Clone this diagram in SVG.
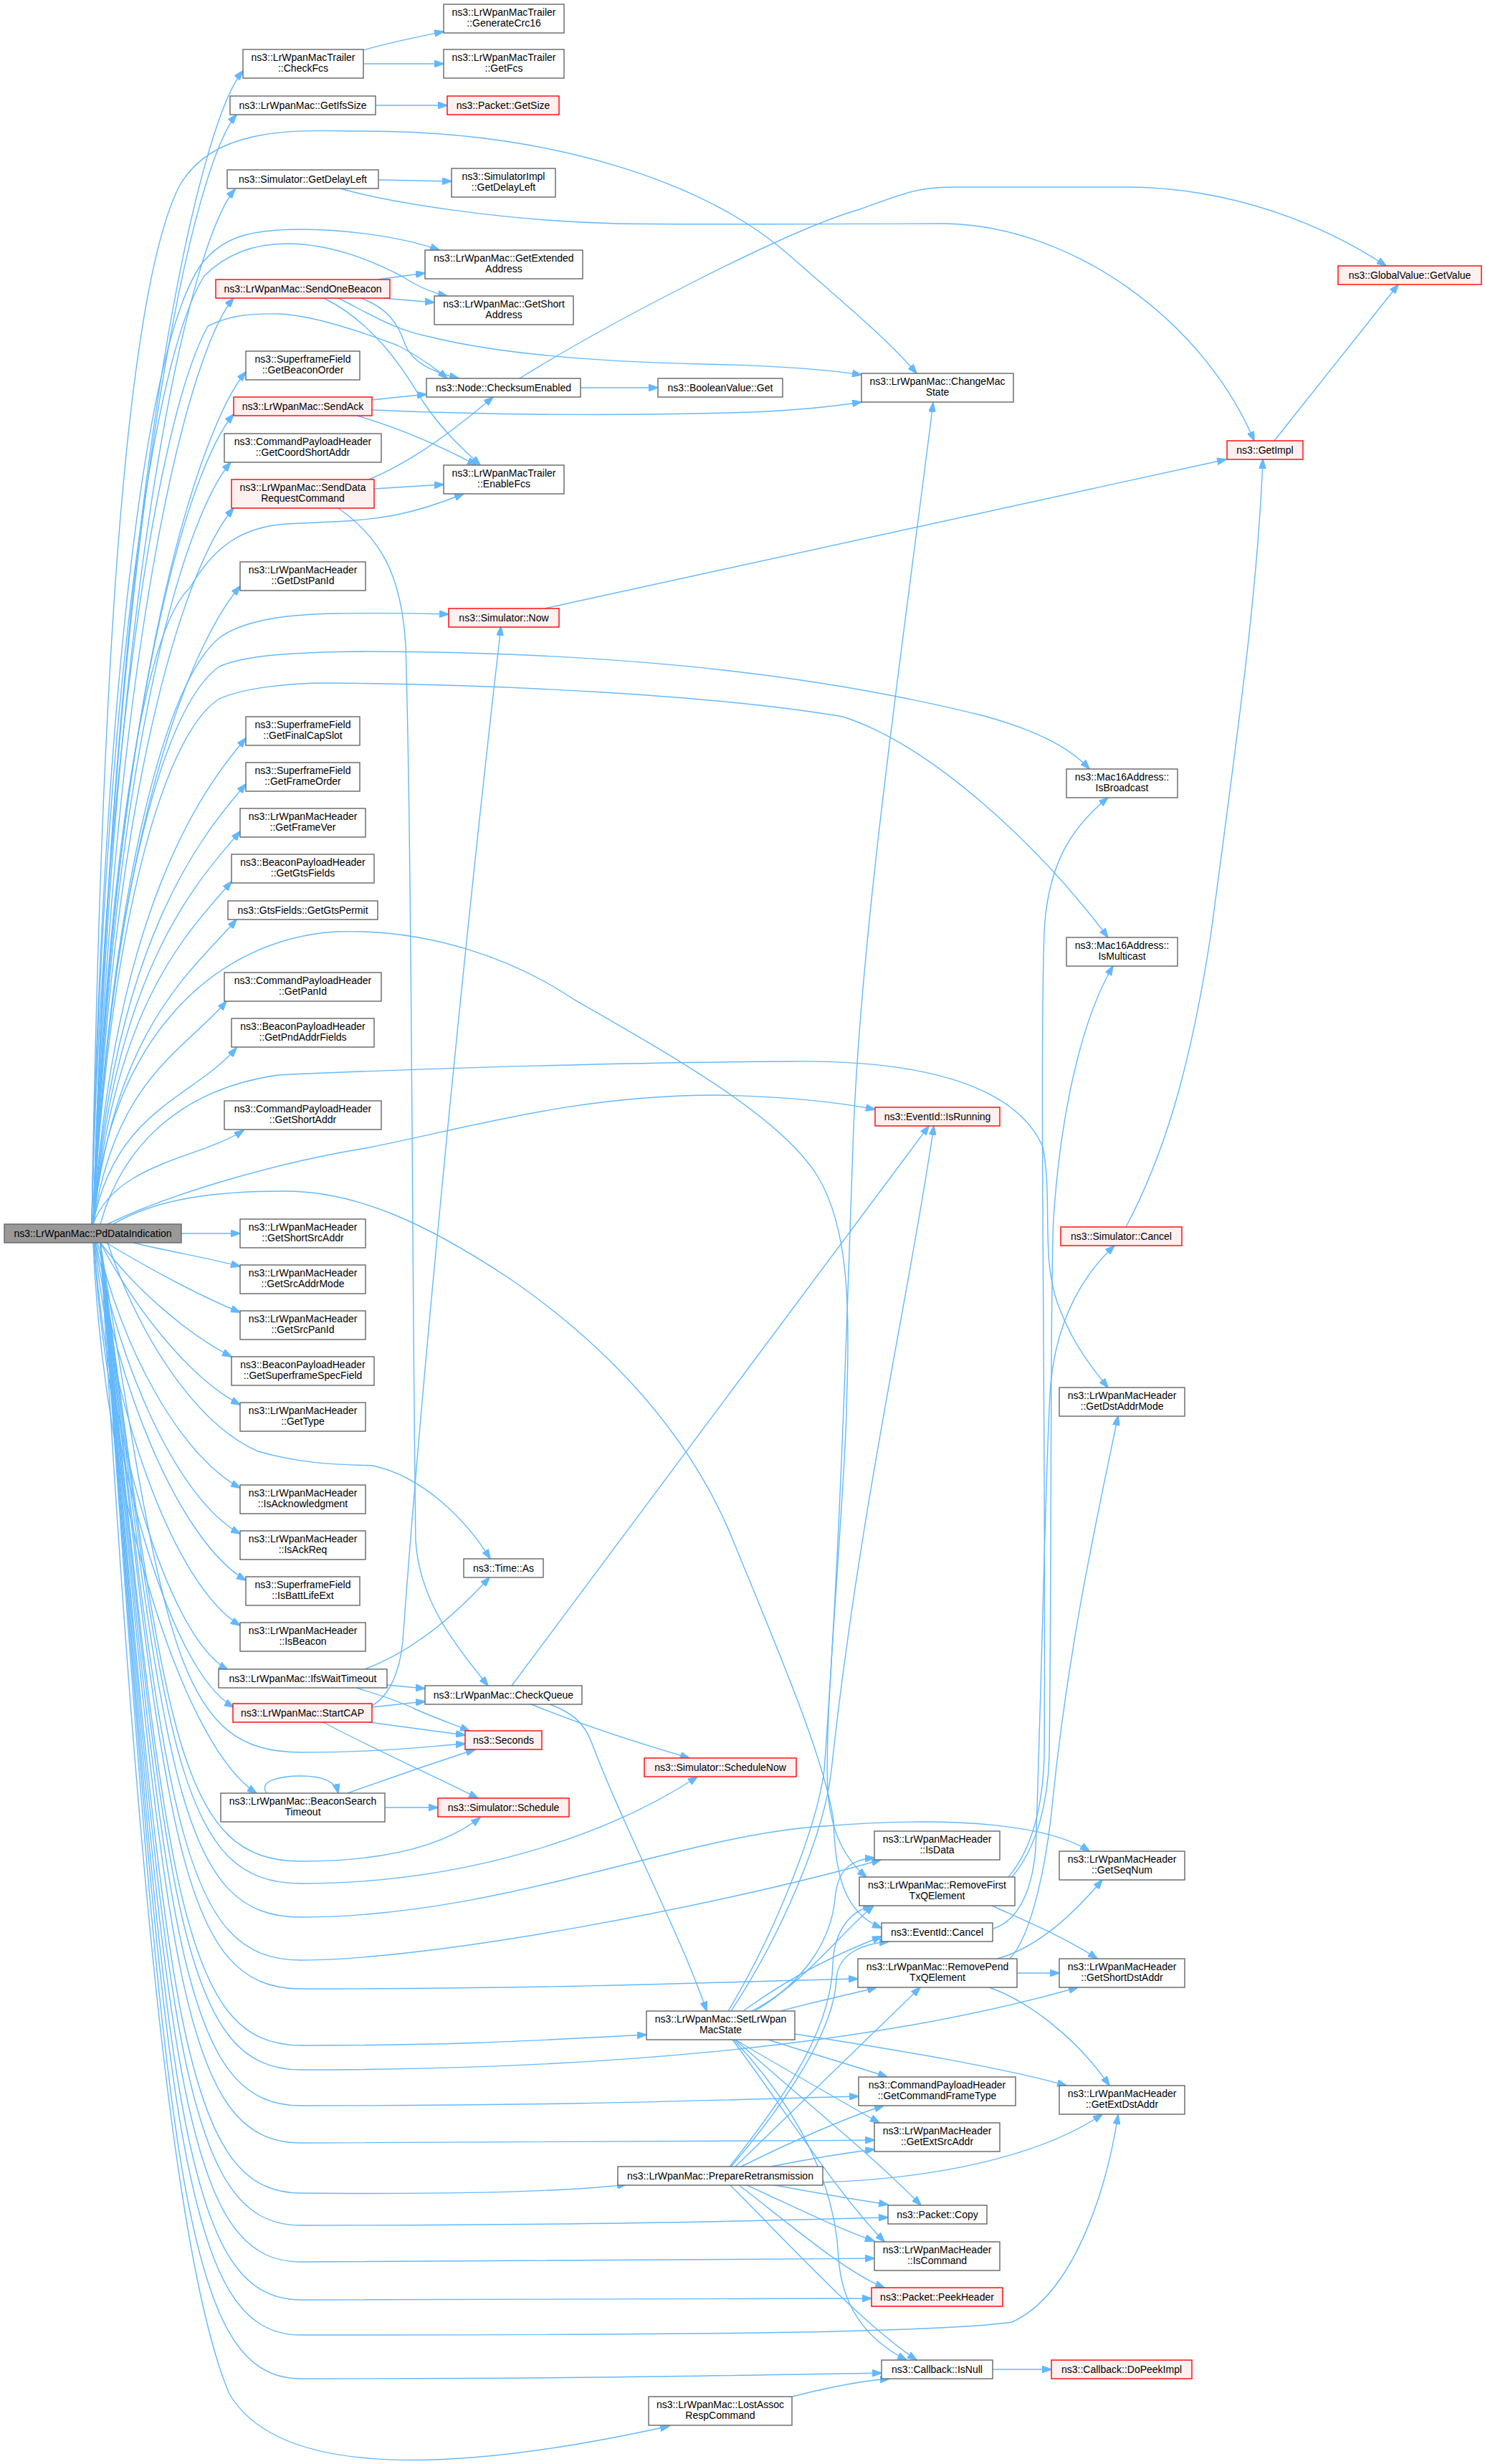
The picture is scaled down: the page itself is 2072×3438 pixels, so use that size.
<svg xmlns="http://www.w3.org/2000/svg" width="2072" height="3438" viewBox="0 0 2072 3438">
<style>
.n rect{fill:#ffffff;stroke:#666666;stroke-width:1.4}
.r rect{fill:#fff0f0;stroke:#ff0000;stroke-width:1.4}
.m rect{fill:#999999;stroke:#666666;stroke-width:1.4}
text{font-family:"Liberation Sans",Arial,sans-serif;font-size:14px;fill:#000000;text-anchor:middle}
.e path{fill:none;stroke:#63b8ff;stroke-width:1.4;marker-end:url(#a)}
</style>
<defs>
<marker id="a" markerUnits="userSpaceOnUse" markerWidth="14" markerHeight="10" viewBox="0 0 14 10" refX="13" refY="5" orient="auto"><path d="M0,0 L14,5 L0,10 z" fill="#63b8ff" stroke="#63b8ff"/></marker>
</defs>
<rect width="2072" height="3438" fill="#ffffff"/>
<g id="edges" class="e">
<path d="M130,1708 C160,662 279,169 339,99"/>
<path d="M130,1708 C160,702 270,230 330,160"/>
<path d="M130,1708 C160,769 268,334 328,264"/>
<path d="M130,1708 C160,868 266,486 326,416"/>
<path d="M130,1708 C160,935 283,589 343,519"/>
<path d="M130,1708 C160,974 266,648 326,578"/>
<path d="M130,1708 C160,1017 262,715 322,645"/>
<path d="M130,1708 C160,1059 266,779 326,709"/>
<path d="M130,1708 C160,1130 275,888 335,818"/>
<path d="M130,1708 C160,1267 283,1100 343,1030"/>
<path d="M130,1708 C160,1309 283,1164 343,1094"/>
<path d="M130,1708 C160,1352 275,1230 335,1160"/>
<path d="M130,1708 C160,1397 263,1300 323,1230"/>
<path d="M130,1708 C160,1432 270,1353 330,1283"/>
<path d="M130,1708 C160,1506 256,1467 316,1397"/>
<path d="M130,1708 C160,1548 270,1532 330,1462"/>
<path d="M130,1708 C160,1623 280,1616 340,1577"/>
<path d="M253,1721 L335,1721"/>
<path d="M186,1734 C230,1745 290,1755 335,1767"/>
<path d="M148,1734 C200,1765 270,1805 335,1831"/>
<path d="M140,1734 C190,1800 260,1860 323,1893"/>
<path d="M140,1734 C185,1820 260,1920 335,1960"/>
<path d="M136,1734 C170,1880 250,2030 335,2076"/>
<path d="M134,1734 C165,1900 245,2090 335,2140"/>
<path d="M133,1734 C160,1930 250,2150 343,2205"/>
<path d="M132,1734 C155,1960 240,2210 335,2268"/>
<path d="M131,1734 C150,1990 230,2280 318,2330"/>
<path d="M131,1734 C148,2020 235,2330 326,2382"/>
<path d="M130,1734 C145,2100 260,2440 358,2502"/>
<path d="M150,1734 C200,1880 280,1990 360,2025 C430,2045 480,2043 520,2045 C590,2060 650,2120 684,2175"/>
<path d="M140,1734 C230,2303 250,2445 420,2445 C535,2445 592,2437 649,2433"/>
<path d="M140,1734 C230,2424 250,2597 420,2597 C540,2597 620,2575 670,2536"/>
<path d="M140,1734 C230,2449 250,2628 420,2628 C650,2628 850,2560 973,2479"/>
<path d="M140,1734 C230,2487 250,2675 420,2675 C700,2675 950,2560 1150,2548 C1350,2532 1470,2550 1520,2583"/>
<path d="M140,1734 C230,2535 250,2735 420,2735 C600,2735 1000,2660 1229,2595"/>
<path d="M140,1734 C230,2567 250,2775 420,2775 C800,2775 1000,2765 1197,2761"/>
<path d="M140,1734 C230,2630 250,2854 420,2854 C660,2854 780,2845 902,2839"/>
<path d="M140,1734 C230,2657 250,2888 420,2888 C800,2888 1200,2860 1504,2773"/>
<path d="M140,1734 C230,2697 250,2938 420,2938 C800,2938 1000,2930 1198,2925"/>
<path d="M140,1734 C230,2739 250,2990 420,2990 C800,2990 1000,2988 1220,2986"/>
<path d="M140,1734 C230,2795 250,3060 420,3060 C650,3062 790,3058 874,3048"/>
<path d="M140,1734 C230,2831 250,3105 420,3105 C800,3105 1000,3100 1239,3094"/>
<path d="M140,1734 C230,2872 250,3156 420,3156 C800,3156 1000,3153 1220,3151"/>
<path d="M140,1734 C230,2914 250,3209 420,3209 C800,3209 1000,3207 1216,3207"/>
<path d="M140,1734 C230,2953 250,3258 420,3258 C900,3258 1300,3256 1412,3240 C1500,3200 1545,3050 1560,2951"/>
<path d="M140,1734 C230,3002 250,3319 420,3319 C800,3319 1000,3315 1230,3311"/>
<path d="M140,1734 C200,2800 260,3200 320,3340 C390,3460 640,3450 934,3385"/>
<path d="M128,1708 C140,1000 170,420 250,260 C300,170 430,183 510,183 C760,183 980,250 1100,355 C1180,425 1240,475 1279,521"/>
<path d="M128,1708 C140,1100 190,500 280,370 C310,330 350,320 420,320 C480,320 560,330 613,349"/>
<path d="M128,1708 C140,1100 200,520 285,385 C320,350 360,340 400,340 C470,340 530,370 560,385 C580,398 600,408 624,413"/>
<path d="M128,1708 C140,1150 210,600 290,455 C320,440 350,437 390,438 C440,440 510,465 555,482 C580,495 605,512 624,528"/>
<path d="M130,1708 C150,1200 200,880 265,820 C300,760 340,735 400,731 C460,728 500,728 550,719 C590,711 620,700 647,689"/>
<path d="M130,1708 C150,1300 220,960 306,890 C340,865 400,857 470,856 C540,855 590,856 626,857"/>
<path d="M130,1708 C150,1300 220,990 306,930 C340,915 400,910 510,909 C800,910 1100,930 1377,1000 C1440,1018 1490,1040 1520,1073"/>
<path d="M130,1708 C150,1330 220,1030 306,975 C340,960 400,953 460,953 C700,955 1000,970 1176,1000 C1300,1040 1450,1180 1546,1308"/>
<path d="M140,1708 C170,1600 250,1520 388,1500 C600,1490 900,1482 1100,1481 C1300,1478 1420,1520 1455,1600 C1470,1680 1450,1760 1480,1830 C1500,1880 1525,1910 1546,1936"/>
<path d="M150,1708 C250,1660 400,1620 510,1602 C650,1575 800,1528 1000,1528 C1100,1530 1170,1538 1221,1548"/>
<path d="M130,1708 C150,1450 300,1310 469,1300 C600,1295 720,1340 800,1394 C950,1480 1090,1560 1140,1640 C1190,1720 1185,1850 1180,2000 C1170,2200 1150,2400 1155,2500 C1160,2560 1180,2595 1209,2619"/>
<path d="M158,1708 C220,1672 300,1662 398,1662 C500,1662 600,1710 714,1786 C850,1880 960,2000 1019,2140 C1080,2290 1150,2450 1163,2540 C1165,2620 1180,2670 1230,2690"/>
<path d="M507,70 C540,60 580,52 619,44"/>
<path d="M507,89 L619,89"/>
<path d="M524,147 L624,147"/>
<path d="M528,251 L630,253"/>
<path d="M475,263 C540,282 700,308 860,312 C1000,314 1200,312 1320,312 C1500,316 1680,450 1750,615"/>
<path d="M527,390 L593,381"/>
<path d="M535,416 L606,422"/>
<path d="M504,416 C540,430 555,450 565,480 C575,505 600,518 640,528"/>
<path d="M452,416 C520,450 560,510 590,560 C620,605 650,630 670,649"/>
<path d="M472,416 C520,440 550,460 600,470 C700,495 850,505 980,508 C1080,510 1150,515 1202,523"/>
<path d="M519,558 L595,550"/>
<path d="M519,572 C700,580 900,580 1050,575 C1120,572 1170,566 1202,561"/>
<path d="M498,580 C550,595 610,620 665,649"/>
<path d="M515,669 C560,650 610,620 688,554"/>
<path d="M522,682 L619,676"/>
<path d="M472,709 C530,750 560,800 566,900 C575,1200 575,1800 580,2150 C585,2230 630,2290 681,2352"/>
<path d="M810,541 L918,541"/>
<path d="M725,528 C850,450 1100,320 1200,292 C1260,270 1280,261 1330,261 L1570,261 C1720,261 1850,315 1934,371"/>
<path d="M760,849 L1711,641"/>
<path d="M1778,615 L1951,397"/>
<path d="M1571,1712 C1620,1620 1660,1500 1690,1300 C1730,1000 1755,820 1762,641"/>
<path d="M540,2351 L593,2356"/>
<path d="M497,2355 C530,2365 560,2375 580,2385 C610,2398 630,2405 655,2415"/>
<path d="M509,2329 C560,2310 620,2270 683,2201"/>
<path d="M519,2382 L593,2374"/>
<path d="M515,2403 L649,2421"/>
<path d="M451,2403 C520,2440 600,2475 667,2509"/>
<path d="M519,2380 C545,2365 558,2330 562,2290 C590,1900 650,1300 699,874"/>
<path d="M485,2502 C560,2475 620,2455 663,2441"/>
<path d="M537,2522 L611,2522"/>
<path d="M372,2502 C360,2485 390,2478 420,2478 C450,2478 468,2485 472,2502"/>
<path d="M714,2352 L1296,1571"/>
<path d="M741,2378 C820,2410 900,2435 962,2453"/>
<path d="M767,2378 C800,2390 815,2405 825,2430 C870,2550 950,2700 986,2806"/>
<path d="M1016,2806 C1080,2700 1140,2550 1150,2470 C1170,2200 1180,1900 1190,1600 C1200,1300 1260,900 1302,562"/>
<path d="M1020,2806 C1090,2700 1150,2560 1160,2470 C1200,2100 1270,1800 1303,1571"/>
<path d="M1053,2806 C1130,2760 1160,2700 1165,2650 C1168,2610 1185,2595 1220,2592"/>
<path d="M1049,2806 C1120,2770 1170,2700 1219,2659"/>
<path d="M1037,2806 C1100,2760 1170,2725 1230,2702"/>
<path d="M1089,2806 C1140,2792 1190,2782 1223,2773"/>
<path d="M1072,2846 C1130,2865 1200,2885 1238,2898"/>
<path d="M1026,2846 C1100,2890 1180,2935 1227,2962"/>
<path d="M1109,2838 C1250,2860 1400,2885 1488,2910"/>
<path d="M1026,2846 C1120,2930 1220,3010 1285,3077"/>
<path d="M1022,2846 C1100,2950 1160,3050 1234,3128"/>
<path d="M1024,2846 C1120,2950 1165,3050 1170,3150 C1175,3230 1220,3270 1265,3293"/>
<path d="M1018,3023 C1100,2920 1160,2830 1162,2740 C1164,2690 1190,2665 1217,2659"/>
<path d="M1020,3023 C1100,2930 1165,2830 1167,2760 C1170,2725 1205,2712 1240,2709"/>
<path d="M1026,3023 L1284,2773"/>
<path d="M1034,3023 C1100,2990 1180,2955 1233,2938"/>
<path d="M1076,3023 C1130,3012 1180,3004 1220,2999"/>
<path d="M1148,3045 C1300,3040 1450,3010 1538,2950"/>
<path d="M1076,3048 C1140,3060 1200,3070 1239,3076"/>
<path d="M1040,3048 C1110,3080 1170,3110 1220,3127"/>
<path d="M1030,3048 C1110,3110 1180,3170 1234,3192"/>
<path d="M1018,3048 C1100,3130 1200,3240 1279,3293"/>
<path d="M1105,3344 C1160,3330 1200,3322 1241,3319"/>
<path d="M1384,2659 C1430,2680 1490,2705 1531,2733"/>
<path d="M1407,2619 C1440,2580 1455,2520 1457,2450 C1460,2000 1450,1500 1457,1300 C1462,1200 1500,1150 1546,1113"/>
<path d="M1412,2619 C1445,2580 1462,2520 1464,2450 C1468,2100 1465,1800 1470,1700 C1480,1550 1510,1420 1553,1348"/>
<path d="M1386,2691 C1420,2680 1440,2640 1445,2580 C1455,2300 1460,2000 1466,1930 C1475,1840 1510,1780 1555,1738"/>
<path d="M1391,2733 C1440,2720 1490,2680 1538,2623"/>
<path d="M1409,2733 C1440,2700 1460,2600 1468,2520 C1490,2300 1530,2120 1560,1976"/>
<path d="M1419,2753 L1478,2753"/>
<path d="M1380,2773 C1430,2790 1500,2840 1548,2910"/>
<path d="M1385,3306 L1467,3306"/>
</g>
<g id="PdDataIndication" class="m"><rect x="6" y="1708" width="247" height="26"/><text x="129.5" y="1726">ns3::LrWpanMac::PdDataIndication</text></g>
<g id="CheckFcs" class="n"><rect x="339" y="69" width="168" height="40"/><text x="423" y="85">ns3::LrWpanMacTrailer</text><text x="423" y="100">::CheckFcs</text></g>
<g id="GetIfsSize" class="n"><rect x="321" y="134" width="203" height="26"/><text x="422.5" y="152">ns3::LrWpanMac::GetIfsSize</text></g>
<g id="GetDelayLeft" class="n"><rect x="317" y="237" width="211" height="26"/><text x="422.5" y="255">ns3::Simulator::GetDelayLeft</text></g>
<g id="SendOneBeacon" class="r"><rect x="301" y="390" width="243" height="26"/><text x="422.5" y="408">ns3::LrWpanMac::SendOneBeacon</text></g>
<g id="GetBeaconOrder" class="n"><rect x="343" y="490" width="159" height="40"/><text x="422.5" y="506">ns3::SuperframeField</text><text x="422.5" y="521">::GetBeaconOrder</text></g>
<g id="SendAck" class="r"><rect x="326" y="554" width="193" height="26"/><text x="422.5" y="572">ns3::LrWpanMac::SendAck</text></g>
<g id="GetCoordShortAddr" class="n"><rect x="313" y="605" width="219" height="40"/><text x="422.5" y="621">ns3::CommandPayloadHeader</text><text x="422.5" y="636">::GetCoordShortAddr</text></g>
<g id="SendDataRequestCommand" class="r"><rect x="323" y="669" width="199" height="40"/><text x="422.5" y="685">ns3::LrWpanMac::SendData</text><text x="422.5" y="700">RequestCommand</text></g>
<g id="GetDstPanId" class="n"><rect x="335" y="784" width="175" height="40"/><text x="422.5" y="800">ns3::LrWpanMacHeader</text><text x="422.5" y="815">::GetDstPanId</text></g>
<g id="GetFinalCapSlot" class="n"><rect x="343" y="1000" width="159" height="40"/><text x="422.5" y="1016">ns3::SuperframeField</text><text x="422.5" y="1031">::GetFinalCapSlot</text></g>
<g id="GetFrameOrder" class="n"><rect x="343" y="1064" width="159" height="40"/><text x="422.5" y="1080">ns3::SuperframeField</text><text x="422.5" y="1095">::GetFrameOrder</text></g>
<g id="GetFrameVer" class="n"><rect x="335" y="1128" width="175" height="40"/><text x="422.5" y="1144">ns3::LrWpanMacHeader</text><text x="422.5" y="1159">::GetFrameVer</text></g>
<g id="GetGtsFields" class="n"><rect x="323" y="1192" width="199" height="40"/><text x="422.5" y="1208">ns3::BeaconPayloadHeader</text><text x="422.5" y="1223">::GetGtsFields</text></g>
<g id="GetGtsPermit" class="n"><rect x="318" y="1257" width="209" height="26"/><text x="422.5" y="1275">ns3::GtsFields::GetGtsPermit</text></g>
<g id="GetPanId" class="n"><rect x="313" y="1357" width="219" height="40"/><text x="422.5" y="1373">ns3::CommandPayloadHeader</text><text x="422.5" y="1388">::GetPanId</text></g>
<g id="GetPndAddrFields" class="n"><rect x="323" y="1421" width="199" height="40"/><text x="422.5" y="1437">ns3::BeaconPayloadHeader</text><text x="422.5" y="1452">::GetPndAddrFields</text></g>
<g id="GetShortAddr" class="n"><rect x="313" y="1536" width="219" height="40"/><text x="422.5" y="1552">ns3::CommandPayloadHeader</text><text x="422.5" y="1567">::GetShortAddr</text></g>
<g id="GetShortSrcAddr" class="n"><rect x="335" y="1701" width="175" height="40"/><text x="422.5" y="1717">ns3::LrWpanMacHeader</text><text x="422.5" y="1732">::GetShortSrcAddr</text></g>
<g id="GetSrcAddrMode" class="n"><rect x="335" y="1765" width="175" height="40"/><text x="422.5" y="1781">ns3::LrWpanMacHeader</text><text x="422.5" y="1796">::GetSrcAddrMode</text></g>
<g id="GetSrcPanId" class="n"><rect x="335" y="1829" width="175" height="40"/><text x="422.5" y="1845">ns3::LrWpanMacHeader</text><text x="422.5" y="1860">::GetSrcPanId</text></g>
<g id="GetSuperframeSpecField" class="n"><rect x="323" y="1893" width="199" height="40"/><text x="422.5" y="1909">ns3::BeaconPayloadHeader</text><text x="422.5" y="1924">::GetSuperframeSpecField</text></g>
<g id="GetType" class="n"><rect x="335" y="1957" width="175" height="40"/><text x="422.5" y="1973">ns3::LrWpanMacHeader</text><text x="422.5" y="1988">::GetType</text></g>
<g id="IsAcknowledgment" class="n"><rect x="335" y="2072" width="175" height="40"/><text x="422.5" y="2088">ns3::LrWpanMacHeader</text><text x="422.5" y="2103">::IsAcknowledgment</text></g>
<g id="IsAckReq" class="n"><rect x="335" y="2136" width="175" height="40"/><text x="422.5" y="2152">ns3::LrWpanMacHeader</text><text x="422.5" y="2167">::IsAckReq</text></g>
<g id="IsBattLifeExt" class="n"><rect x="343" y="2200" width="159" height="40"/><text x="422.5" y="2216">ns3::SuperframeField</text><text x="422.5" y="2231">::IsBattLifeExt</text></g>
<g id="IsBeacon" class="n"><rect x="335" y="2264" width="175" height="40"/><text x="422.5" y="2280">ns3::LrWpanMacHeader</text><text x="422.5" y="2295">::IsBeacon</text></g>
<g id="IfsWaitTimeout" class="n"><rect x="305" y="2329" width="235" height="26"/><text x="422.5" y="2347">ns3::LrWpanMac::IfsWaitTimeout</text></g>
<g id="StartCAP" class="r"><rect x="325" y="2377" width="194" height="26"/><text x="422" y="2395">ns3::LrWpanMac::StartCAP</text></g>
<g id="BeaconSearchTimeout" class="n"><rect x="308" y="2502" width="229" height="40"/><text x="422.5" y="2518">ns3::LrWpanMac::BeaconSearch</text><text x="422.5" y="2533">Timeout</text></g>
<g id="SetLrWpanMacState" class="n"><rect x="902" y="2806" width="207" height="40"/><text x="1005.5" y="2822">ns3::LrWpanMac::SetLrWpan</text><text x="1005.5" y="2837">MacState</text></g>
<g id="PrepareRetransmission" class="n"><rect x="862" y="3023" width="286" height="26"/><text x="1005" y="3041">ns3::LrWpanMac::PrepareRetransmission</text></g>
<g id="LostAssocRespCommand" class="n"><rect x="905" y="3344" width="200" height="40"/><text x="1005" y="3360">ns3::LrWpanMac::LostAssoc</text><text x="1005" y="3375">RespCommand</text></g>
<g id="GenerateCrc16" class="n"><rect x="619" y="6" width="168" height="40"/><text x="703" y="22">ns3::LrWpanMacTrailer</text><text x="703" y="37">::GenerateCrc16</text></g>
<g id="GetFcs" class="n"><rect x="619" y="69" width="168" height="40"/><text x="703" y="85">ns3::LrWpanMacTrailer</text><text x="703" y="100">::GetFcs</text></g>
<g id="PacketGetSize" class="r"><rect x="624" y="134" width="156" height="26"/><text x="702" y="152">ns3::Packet::GetSize</text></g>
<g id="SimulatorImplGetDelayLeft" class="n"><rect x="630" y="235" width="145" height="40"/><text x="702.5" y="251">ns3::SimulatorImpl</text><text x="702.5" y="266">::GetDelayLeft</text></g>
<g id="GetExtendedAddress" class="n"><rect x="593" y="349" width="220" height="40"/><text x="703" y="365">ns3::LrWpanMac::GetExtended</text><text x="703" y="380">Address</text></g>
<g id="GetShortAddress" class="n"><rect x="606" y="413" width="194" height="40"/><text x="703" y="429">ns3::LrWpanMac::GetShort</text><text x="703" y="444">Address</text></g>
<g id="ChecksumEnabled" class="n"><rect x="595" y="528" width="215" height="26"/><text x="702.5" y="546">ns3::Node::ChecksumEnabled</text></g>
<g id="EnableFcs" class="n"><rect x="619" y="649" width="168" height="40"/><text x="703" y="665">ns3::LrWpanMacTrailer</text><text x="703" y="680">::EnableFcs</text></g>
<g id="SimulatorNow" class="r"><rect x="626" y="849" width="154" height="26"/><text x="703" y="867">ns3::Simulator::Now</text></g>
<g id="TimeAs" class="n"><rect x="647" y="2175" width="111" height="26"/><text x="702.5" y="2193">ns3::Time::As</text></g>
<g id="CheckQueue" class="n"><rect x="593" y="2352" width="219" height="26"/><text x="702.5" y="2370">ns3::LrWpanMac::CheckQueue</text></g>
<g id="Seconds" class="r"><rect x="649" y="2415" width="107" height="26"/><text x="702.5" y="2433">ns3::Seconds</text></g>
<g id="SimulatorSchedule" class="r"><rect x="611" y="2509" width="183" height="26"/><text x="702.5" y="2527">ns3::Simulator::Schedule</text></g>
<g id="SimulatorScheduleNow" class="r"><rect x="899" y="2453" width="212" height="26"/><text x="1005" y="2471">ns3::Simulator::ScheduleNow</text></g>
<g id="BooleanValueGet" class="n"><rect x="918" y="528" width="174" height="26"/><text x="1005" y="546">ns3::BooleanValue::Get</text></g>
<g id="ChangeMacState" class="n"><rect x="1202" y="521" width="212" height="40"/><text x="1308" y="537">ns3::LrWpanMac::ChangeMac</text><text x="1308" y="552">State</text></g>
<g id="EventIdIsRunning" class="r"><rect x="1221" y="1545" width="174" height="26"/><text x="1308" y="1563">ns3::EventId::IsRunning</text></g>
<g id="IsData" class="n"><rect x="1220" y="2555" width="175" height="40"/><text x="1307.5" y="2571">ns3::LrWpanMacHeader</text><text x="1307.5" y="2586">::IsData</text></g>
<g id="RemoveFirstTxQElement" class="n"><rect x="1199" y="2619" width="217" height="40"/><text x="1307.5" y="2635">ns3::LrWpanMac::RemoveFirst</text><text x="1307.5" y="2650">TxQElement</text></g>
<g id="EventIdCancel" class="n"><rect x="1230" y="2683" width="155" height="26"/><text x="1307.5" y="2701">ns3::EventId::Cancel</text></g>
<g id="RemovePendTxQElement" class="n"><rect x="1197" y="2733" width="222" height="40"/><text x="1308" y="2749">ns3::LrWpanMac::RemovePend</text><text x="1308" y="2764">TxQElement</text></g>
<g id="GetCommandFrameType" class="n"><rect x="1198" y="2898" width="219" height="40"/><text x="1307.5" y="2914">ns3::CommandPayloadHeader</text><text x="1307.5" y="2929">::GetCommandFrameType</text></g>
<g id="GetExtSrcAddr" class="n"><rect x="1220" y="2962" width="175" height="40"/><text x="1307.5" y="2978">ns3::LrWpanMacHeader</text><text x="1307.5" y="2993">::GetExtSrcAddr</text></g>
<g id="PacketCopy" class="n"><rect x="1239" y="3077" width="138" height="26"/><text x="1308" y="3095">ns3::Packet::Copy</text></g>
<g id="IsCommand" class="n"><rect x="1220" y="3128" width="175" height="40"/><text x="1307.5" y="3144">ns3::LrWpanMacHeader</text><text x="1307.5" y="3159">::IsCommand</text></g>
<g id="PacketPeekHeader" class="r"><rect x="1216" y="3192" width="183" height="26"/><text x="1307.5" y="3210">ns3::Packet::PeekHeader</text></g>
<g id="CallbackIsNull" class="n"><rect x="1230" y="3293" width="155" height="26"/><text x="1307.5" y="3311">ns3::Callback::IsNull</text></g>
<g id="IsBroadcast" class="n"><rect x="1488" y="1073" width="155" height="40"/><text x="1565.5" y="1089">ns3::Mac16Address::</text><text x="1565.5" y="1104">IsBroadcast</text></g>
<g id="IsMulticast" class="n"><rect x="1488" y="1308" width="155" height="40"/><text x="1565.5" y="1324">ns3::Mac16Address::</text><text x="1565.5" y="1339">IsMulticast</text></g>
<g id="SimulatorCancel" class="r"><rect x="1480" y="1712" width="169" height="26"/><text x="1564.5" y="1730">ns3::Simulator::Cancel</text></g>
<g id="GetDstAddrMode" class="n"><rect x="1478" y="1936" width="175" height="40"/><text x="1565.5" y="1952">ns3::LrWpanMacHeader</text><text x="1565.5" y="1967">::GetDstAddrMode</text></g>
<g id="GetSeqNum" class="n"><rect x="1478" y="2583" width="175" height="40"/><text x="1565.5" y="2599">ns3::LrWpanMacHeader</text><text x="1565.5" y="2614">::GetSeqNum</text></g>
<g id="GetShortDstAddr" class="n"><rect x="1478" y="2733" width="175" height="40"/><text x="1565.5" y="2749">ns3::LrWpanMacHeader</text><text x="1565.5" y="2764">::GetShortDstAddr</text></g>
<g id="GetExtDstAddr" class="n"><rect x="1478" y="2910" width="175" height="40"/><text x="1565.5" y="2926">ns3::LrWpanMacHeader</text><text x="1565.5" y="2941">::GetExtDstAddr</text></g>
<g id="CallbackDoPeekImpl" class="r"><rect x="1467" y="3293" width="196" height="26"/><text x="1565" y="3311">ns3::Callback::DoPeekImpl</text></g>
<g id="GetImpl" class="r"><rect x="1712" y="615" width="106" height="26"/><text x="1765" y="633">ns3::GetImpl</text></g>
<g id="GlobalValueGetValue" class="r"><rect x="1867" y="371" width="200" height="26"/><text x="1967" y="389">ns3::GlobalValue::GetValue</text></g>
</svg>
